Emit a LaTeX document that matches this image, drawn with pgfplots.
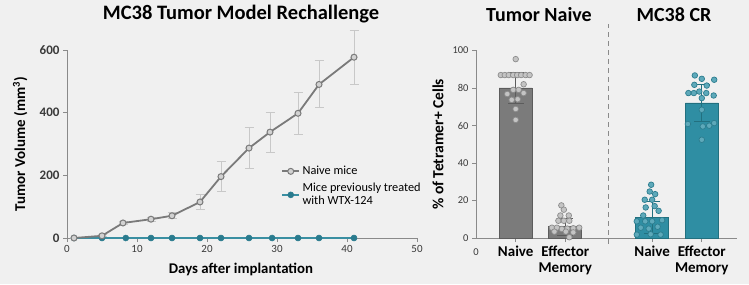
\documentclass[border=0pt]{standalone}
\usepackage{fontspec}
\setmainfont{Carlito}
\usepackage{pgfplots}
\pgfplotsset{compat=1.18}
\definecolor{bg}{HTML}{F0F0F0}
\definecolor{axisgray}{HTML}{8A8A8A}
\definecolor{linegray}{HTML}{7A7A7A}
\definecolor{markgray}{HTML}{D2D2D2}
\definecolor{errgray}{HTML}{C8C8C8}
\definecolor{tealline}{HTML}{3A8FA2}
\definecolor{tealmark}{HTML}{2A7B8E}
\definecolor{barGray}{HTML}{7B7B7B}
\definecolor{barGrayEdge}{HTML}{5C5C5C}
\definecolor{dotGray}{HTML}{C4C4C4}
\definecolor{dotGrayEdge}{HTML}{8C8C8C}
\definecolor{barTeal}{HTML}{2F8EA3}
\definecolor{barTealEdge}{HTML}{22707F}
\definecolor{dotTeal}{HTML}{5EA9BA}
\definecolor{dotTealEdge}{HTML}{2C7D8F}
\definecolor{ticktext}{HTML}{3A3A3A}

\pgfplotstableread{
x y e
1 0 0
5 7 3
8 48 5
12 60 6
15 71 9
19 115 25
22 196 47
26 287 65
29 338 64
33 398 67
36 490 75
41 577 86
}\naive

\pgfplotstableread{
x y
1 0
5 0
8.4 0
12 0
15 0
19 0
22 0
26 0
29.3 0
33 0
36 0
41 0
}\treated

\pgfplotstableread{
x y
1.00 95.4
0.70 86.9
0.78 86.9
0.86 86.9
0.95 86.9
1.03 86.9
1.11 86.9
1.20 86.9
1.28 86.9
1.16 82.0
0.83 76.8
0.95 79.0
1.06 79.0
1.16 77.3
0.92 73.7
1.04 74.0
1.00 68.8
1.00 63.0
}\dotsGN

\pgfplotstableread{
x y
1.92 17.4
1.97 15.1
1.90 12.0
2.07 12.0
1.86 9.2
1.97 9.2
2.08 9.2
1.73 5.5
1.83 5.5
1.93 4.8
2.04 5.0
2.16 5.2
2.28 5.5
1.78 3.4
2.01 3.4
2.16 3.0
2.08 0.4
}\dotsGE

\pgfplotstableread{
x y
3.73 28.4
3.70 24.8
3.81 23.4
3.60 20.4
3.75 20.4
3.62 16.3
3.80 17.0
3.88 14.5
3.57 12.0
3.44 8.9
3.61 8.9
3.75 8.9
3.95 9.5
3.52 5.5
3.68 5.0
3.86 6.0
3.44 1.8
3.72 2.0
3.92 1.8
}\dotsTN

\pgfplotstableread{
x y
4.61 86.7
4.75 84.9
5.00 84.4
4.60 81.7
4.85 81.3
4.48 77.3
4.59 77.3
4.70 78.1
4.84 77.3
4.99 76.0
4.75 74.6
4.75 68.4
4.47 60.8
5.00 61.3
4.77 59.5
4.90 59.9
4.75 52.4
}\dotsTE

\begin{document}
\begin{tikzpicture}[x=1pt,y=1pt]
\useasboundingbox (0,0) rectangle (749,284);
\fill[bg] (0,0) rectangle (749,284);

% ---------------- left chart ----------------
\begin{axis}[
  at={(67pt,46pt)}, anchor=south west,
  scale only axis, width=350pt, height=188pt,
  xmin=0, xmax=50, ymin=0, ymax=600,
  clip=false,
  axis x line*=bottom, axis y line*=left,
  axis line style={draw=axisgray, line width=1pt},
  xtick={0,10,...,50}, ytick={0,200,400,600},
  tick align=outside, major tick length=4pt,
  tick style={draw=axisgray, line width=0.9pt},
  /pgf/number format/assume math mode=true,
  xticklabel style={font=\fontsize{11}{12}\selectfont, text=ticktext},
  yticklabel style={font=\bfseries\fontsize{13}{13}\selectfont, text=ticktext},
  xlabel={Days after implantation},
  ylabel={Tumor Volume (mm\textsuperscript{3})},
  xlabel style={font=\bfseries\fontsize{14.8}{15}\selectfont, at={(axis description cs:0.497,-0.17)}, anchor=center},
  ylabel style={font=\bfseries\fontsize{15}{15}\selectfont, at={(axis description cs:-0.134,0.5)}, anchor=center},
  legend style={at={(axis cs:30.1,242)}, anchor=north west, draw=none, fill=none,
    font=\fontsize{12.3}{13}\selectfont, cells={align=left, anchor=west}, row sep=3pt},
  legend cell align=left,
  reverse legend,
]
\addplot[forget plot, only marks, mark=none,
  error bars/.cd, y dir=both, y explicit,
  error bar style={draw=errgray, line width=1pt},
  error mark options={rotate=90, draw=errgray, mark size=4.5pt, line width=1pt}]
  table[x=x, y=y, y error=e] {\naive};
\addplot[draw=tealline, line width=2.6pt, mark=*, mark size=3pt,
  mark options={fill=tealmark, draw=tealmark, line width=0.5pt}]
  table[x=x, y=y] {\treated};
\addlegendentry{Mice previously treated\\with WTX-124}
\addplot[draw=linegray, line width=1.8pt, mark=*, mark size=3pt,
  mark options={fill=markgray, draw=linegray, line width=1pt}]
  table[x=x, y=y] {\naive};
\addlegendentry{Naive mice}
\end{axis}
\node[font=\bfseries\fontsize{20.5}{21}\selectfont] at (241,270) {MC38 Tumor Model Rechallenge};

% ---------------- right chart ----------------
\begin{axis}[
  at={(476pt,46pt)}, anchor=south west,
  scale only axis, width=261pt, height=187.5pt,
  xmin=0.2, xmax=5.46, ymin=0, ymax=100,
  clip=false,
  axis x line*=bottom, axis y line*=left,
  axis line style={draw=axisgray, line width=1pt},
  xtick={1,2,3.75,4.75},
  xticklabels={Naive, Effector\\Memory, Naive, Effector\\Memory},
  ytick={0,20,...,100},
  tick align=outside, major tick length=4pt,
  tick style={draw=axisgray, line width=0.9pt},
  /pgf/number format/assume math mode=true,
  xticklabel style={font=\bfseries\fontsize{15}{16}\selectfont, text=black, align=center},
  yticklabel style={font=\fontsize{10.5}{11}\selectfont, text=ticktext},
  ylabel={\% of Tetramer+ Cells},
  ylabel style={font=\bfseries\fontsize{15.5}{16}\selectfont, at={(axis description cs:-0.146,0.5)}, anchor=center},
]
\addplot[ybar, bar width=33pt, bar shift=0pt, fill=barGray, draw=barGrayEdge, line width=0.8pt,
  error bars/.cd, y dir=both, y explicit,
  error bar style={draw=barGrayEdge, line width=0.9pt},
  error mark options={rotate=90, draw=barGrayEdge, mark size=8pt, line width=0.9pt}]
  coordinates {(1,80) +- (0,8.5) (2,6) +- (0,4.5)};
\addplot[ybar, bar width=33pt, bar shift=0pt, fill=barTeal, draw=barTealEdge, line width=0.8pt,
  error bars/.cd, y dir=both, y explicit,
  error bar style={draw=barTealEdge, line width=0.9pt},
  error mark options={rotate=90, draw=barTealEdge, mark size=8pt, line width=0.9pt}]
  coordinates {(3.75,11) +- (0,8.5) (4.75,72) +- (0,10)};
\addplot[only marks, mark=*, mark size=2.8pt, mark options={fill=dotGray, draw=dotGrayEdge, line width=0.7pt}] table[x=x,y=y] {\dotsGN};
\addplot[only marks, mark=*, mark size=2.8pt, mark options={fill=dotGray, draw=dotGrayEdge, line width=0.7pt}] table[x=x,y=y] {\dotsGE};
\addplot[only marks, mark=*, mark size=2.8pt, mark options={fill=dotTeal, draw=dotTealEdge, line width=0.7pt}] table[x=x,y=y] {\dotsTN};
\addplot[only marks, mark=*, mark size=2.8pt, mark options={fill=dotTeal, draw=dotTealEdge, line width=0.7pt}] table[x=x,y=y] {\dotsTE};
\draw[draw=axisgray, line width=1pt, dash pattern=on 5pt off 4pt] (axis cs:2.87,-3) -- (axis cs:2.87,114);
\node[anchor=north, font=\fontsize{10.5}{11}\selectfont, text=ticktext] at (axis cs:0.2,0) [yshift=-7pt] {0};
\end{axis}
\node[font=\bfseries\fontsize{20}{21}\selectfont] at (539,269) {Tumor Naive};
\node[font=\bfseries\fontsize{20}{21}\selectfont] at (674,269) {MC38 CR};
\end{tikzpicture}
\end{document}
